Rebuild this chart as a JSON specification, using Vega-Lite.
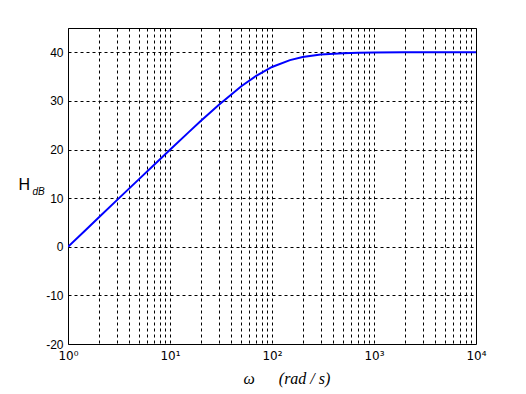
{
  "$schema": "https://vega.github.io/schema/vega-lite/v6.json",
  "autosize": {"type": "none"},
  "padding": {"left": 68, "top": 28, "right": 50, "bottom": 50},
  "width": 408,
  "height": 316,
  "background": "white",
  "config": {
    "view": {"stroke": "black", "strokeWidth": 1},
    "axis": {"labelFont": "Liberation Sans", "labelFontSize": 12, "labelColor": "black", "titleColor": "black"}
  },
  "data": {"values": [
    {"w": 1, "h": 0.0},
    {"w": 1.5, "h": 3.52},
    {"w": 2, "h": 6.02},
    {"w": 3, "h": 9.54},
    {"w": 5, "h": 13.97},
    {"w": 7, "h": 16.88},
    {"w": 10, "h": 19.96},
    {"w": 15, "h": 23.43},
    {"w": 20, "h": 25.85},
    {"w": 30, "h": 29.17},
    {"w": 50, "h": 33.01},
    {"w": 70, "h": 35.17},
    {"w": 100, "h": 36.99},
    {"w": 150, "h": 38.40},
    {"w": 200, "h": 39.03},
    {"w": 300, "h": 39.54},
    {"w": 500, "h": 39.83},
    {"w": 700, "h": 39.91},
    {"w": 1000, "h": 39.96},
    {"w": 2000, "h": 39.99},
    {"w": 5000, "h": 40.0},
    {"w": 10000, "h": 40.0}
  ]},
  "layer": [
    {
      "mark": {"type": "line", "color": "#0000ff", "strokeWidth": 2, "clip": true},
      "encoding": {
        "x": {
          "field": "w", "type": "quantitative",
          "scale": {"type": "log", "domain": [1, 10000], "nice": false},
          "axis": {
            "values": [1,2,3,4,5,6,7,8,9,10,20,30,40,50,60,70,80,90,100,200,300,400,500,600,700,800,900,1000,2000,3000,4000,5000,6000,7000,8000,9000,10000],
            "labelExpr": "datum.value==1?'10⁰':datum.value==10?'10¹':datum.value==100?'10²':datum.value==1000?'10³':datum.value==10000?'10⁴':''",
            "labelFont": "DejaVu Sans", "labelFontSize": 12,
            "grid": true, "gridColor": "black", "gridDash": [3, 3], "gridOpacity": 1, "gridWidth": 1,
            "ticks": false, "domain": false, "labelPadding": 6, "labelFlush": false,
            "title": "ω\u00a0\u00a0\u00a0\u00a0\u00a0\u00a0(rad / s)",
            "titleFont": "Liberation Serif", "titleFontStyle": "italic", "titleFontWeight": "normal", "titleFontSize": 16,
            "titleAlign": "left", "titleBaseline": "alphabetic", "titleX": 175, "titleY": 39
          }
        },
        "y": {
          "field": "h", "type": "quantitative",
          "scale": {"domain": [-20, 45], "nice": false, "zero": false},
          "axis": {
            "values": [-20, -10, 0, 10, 20, 30, 40],
            "labelExpr": "datum.value + ''",
            "grid": true, "gridColor": "black", "gridDash": [3, 3], "gridOpacity": 1, "gridWidth": 1,
            "ticks": false, "domain": false, "labelPadding": 5,
            "title": "H", "titleFont": "Liberation Sans", "titleFontSize": 16, "titleFontWeight": "normal",
            "titleAngle": 0, "titleAlign": "left", "titleBaseline": "alphabetic", "titleX": -50, "titleY": 161
          }
        }
      }
    },
    {
      "mark": {"type": "line", "strokeOpacity": 0},
      "encoding": {
        "x": {"field": "w", "type": "quantitative", "scale": {"type": "log", "domain": [1, 10000], "nice": false}},
        "y": {
          "field": "h", "type": "quantitative",
          "scale": {"domain": [-20, 45], "nice": false, "zero": false},
          "axis": {
            "orient": "left", "labels": false, "ticks": false, "domain": false, "grid": false,
            "title": "dB", "titleFont": "Liberation Sans", "titleFontStyle": "italic", "titleFontSize": 10, "titleFontWeight": "normal",
            "titleAngle": 0, "titleAlign": "left", "titleBaseline": "alphabetic", "titleX": -36, "titleY": 166
          }
        }
      }
    }
  ],
  "resolve": {"axis": {"y": "independent"}}
}
